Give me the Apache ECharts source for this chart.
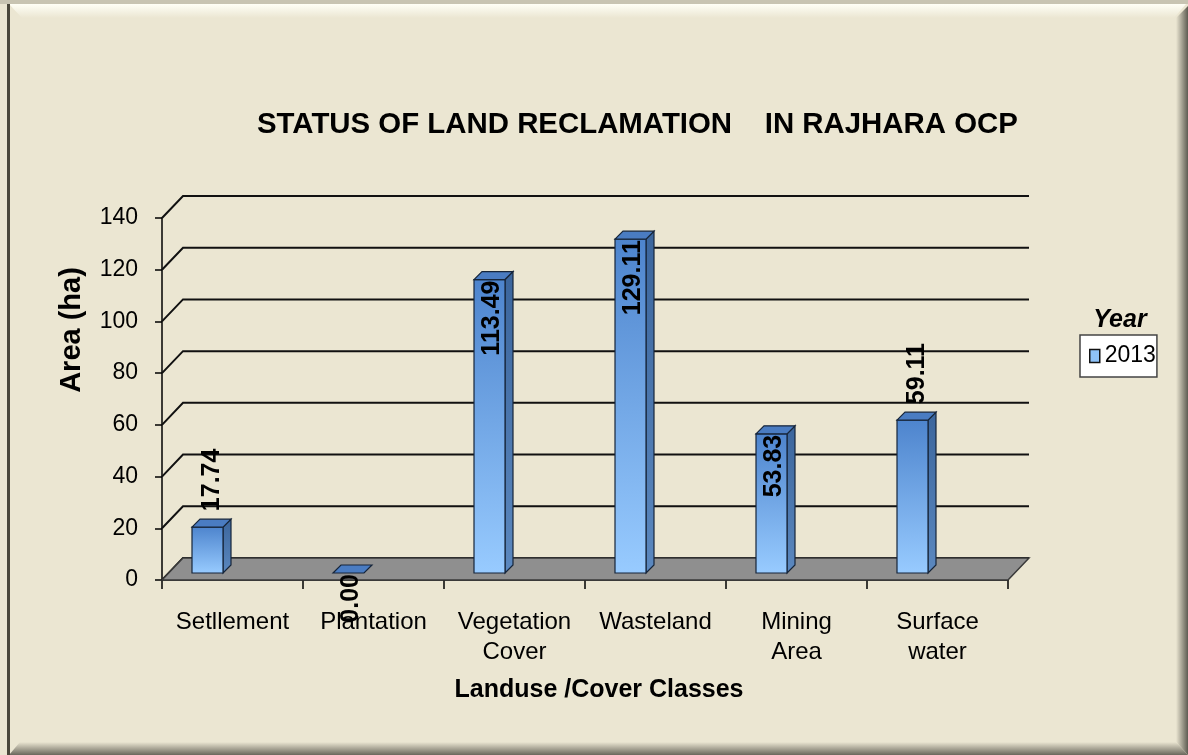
<!DOCTYPE html>
<html>
<head>
<meta charset="utf-8">
<script src="https://cdn.jsdelivr.net/npm/echarts@6/dist/echarts.min.js"></script>
<style>
  html, body { margin: 0; padding: 0; background: #ebe6d2; }
  #chart { width: 1188px; height: 755px; }
</style>
</head>
<body>
<div id="chart"></div>
<script>
// data
const categories = ['Setllement', 'Plantation', 'Vegetation\nCover', 'Wasteland', 'Mining\nArea', 'Surface\nwater']
const area2013 = [17.74, 0.00, 113.49, 129.11, 53.83, 59.11]
const yTicks = [0, 20, 40, 60, 80, 100, 120, 140]
// where Excel put each data label (inside the bar top or above it)
const labelInside = [false, true, true, true, true, false]

const SANS = "'Liberation Sans', Arial, sans-serif"
const DEPTH_X = 21, DEPTH_Y = -22   // back wall offset
const BAR_W = 31, BAR_D = 8

const chart = echarts.init(document.getElementById('chart'))

// back wall gridlines, drawn in fake 3D
function renderGrid(params, api) {
  const cs = params.coordSys
  const y = api.coord([0, api.value(1)])[1]
  const x0 = cs.x, x1 = cs.x + cs.width
  return {
    type: 'polyline',
    shape: { points: [[x0, y], [x0 + DEPTH_X, y + DEPTH_Y], [x1 + DEPTH_X, y + DEPTH_Y]] },
    style: { stroke: '#111', lineWidth: 2, fill: null },
  }
}

// grey floor
function renderFloor(params, api) {
  const cs = params.coordSys
  const y = api.coord([0, 0])[1]
  const x0 = cs.x, x1 = cs.x + cs.width
  return {
    type: 'polygon',
    shape: { points: [[x0, y], [x1, y], [x1 + DEPTH_X, y + DEPTH_Y], [x0 + DEPTH_X, y + DEPTH_Y]] },
    style: { fill: '#8f8f8f', stroke: '#3a3a3a', lineWidth: 1.5 },
  }
}

function renderBar(params, api) {
  const i = api.value(0)
  const v = api.value(1)
  const base = api.coord([i, 0])
  const top = api.coord([i, v])
  const cx = base[0]
  const L = cx - 40.5, R = L + BAR_W
  const B = base[1] - 7, T = top[1] - 7
  const d = BAR_D
  const edge = { stroke: '#16253a', lineWidth: 1.2 }
  const children = []
  if (B - T > 0.5) {
    children.push({
      type: 'polygon',
      shape: { points: [[R, T], [R + d, T - d], [R + d, B - d], [R, B]] },
      style: Object.assign({
        fill: new echarts.graphic.LinearGradient(0, 0, 0, 1, [
          { offset: 0, color: '#3b659c' },
          { offset: 1, color: '#5b88bf' },
        ]),
      }, edge),
    })
    children.push({
      type: 'rect',
      shape: { x: L, y: T, width: BAR_W, height: B - T },
      style: Object.assign({
        fill: new echarts.graphic.LinearGradient(0, 0, 0, 1, [
          { offset: 0, color: '#4d84cd' },
          { offset: 1, color: '#98cbff' },
        ]),
      }, edge),
    })
  }
  children.push({
    type: 'polygon',
    shape: { points: [[L, T], [R, T], [R + d, T - d], [L + d, T - d]] },
    style: Object.assign({ fill: '#4a7cc2' }, edge),
  })
  const inside = labelInside[i]
  children.push({
    type: 'text',
    x: inside ? cx - 22 : cx - 20,
    y: inside ? T + 1 : T - 16,
    rotation: Math.PI / 2,
    style: {
      text: v.toFixed(2),
      fill: '#000',
      fontFamily: SANS,
      fontSize: 25,
      fontWeight: 'bold',
      align: inside ? 'right' : 'left',
      verticalAlign: 'middle',
    },
    z2: 10,
  })
  return { type: 'group', children }
}

chart.setOption({
  backgroundColor: '#ebe6d2',
  animation: false,
  title: {
    text: 'STATUS OF LAND RECLAMATION    IN RAJHARA OCP',
    left: 257,
    top: 110,
    padding: 0,
    textStyle: { fontFamily: SANS, fontSize: 29.4, fontWeight: 'bold', color: '#000' },
  },
  legend: {
    data: ['2013'],
    left: 1080,
    top: 335,
    backgroundColor: '#fff',
    borderColor: '#444',
    borderWidth: 1.5,
    borderRadius: 0,
    padding: [8, 1, 8, 9],
    itemWidth: 10,
    itemHeight: 13,
    icon: 'rect',
    itemStyle: { borderColor: '#111', borderWidth: 1.5 },
    textStyle: { fontFamily: SANS, fontSize: 23, color: '#000', lineHeight: 26 },
  },
  grid: { left: 162, right: 180, top: 218, bottom: 175 },
  xAxis: {
    type: 'category',
    data: categories,
    boundaryGap: true,
    axisLine: { lineStyle: { color: '#000', width: 1.5 } },
    axisTick: { show: true, length: 9, interval: 0, lineStyle: { color: '#000', width: 1.5 } },
    axisLabel: {
      interval: 0,
      margin: 27,
      color: '#000',
      fontFamily: SANS,
      fontSize: 24,
      lineHeight: 30,
    },
  },
  yAxis: {
    type: 'value',
    min: 0,
    max: 140,
    interval: 20,
    axisLine: { show: true, lineStyle: { color: '#000', width: 1.5 } },
    axisTick: { show: true, length: 7, lineStyle: { color: '#000', width: 1.5 } },
    axisLabel: { margin: 24, color: '#000', fontFamily: SANS, fontSize: 23 },
    splitLine: { show: false },
  },
  graphic: [
    // frame bevel
    { type: 'rect', z: -10, silent: true, shape: { x: 0, y: 0, width: 1188, height: 4 }, style: { fill: '#c8c4b2' } },
    {
      type: 'polygon', z: -9, silent: true,
      shape: { points: [[9, 4], [1186, 4], [1174, 18], [22, 18]] },
      style: {
        fill: new echarts.graphic.LinearGradient(0, 0, 0, 1, [
          { offset: 0, color: '#fffff6' },
          { offset: 1, color: '#ebe6d2' },
        ]),
      },
    },
    {
      type: 'polygon', z: -9, silent: true,
      shape: { points: [[1176, 18], [1188, 6], [1188, 755], [1176, 742]] },
      style: {
        fill: new echarts.graphic.LinearGradient(0, 0, 1, 0, [
          { offset: 0, color: '#ebe6d2' },
          { offset: 1, color: '#5e5c52' },
        ]),
      },
    },
    {
      type: 'polygon', z: -9, silent: true,
      shape: { points: [[20, 742], [1176, 742], [1188, 755], [9, 755]] },
      style: {
        fill: new echarts.graphic.LinearGradient(0, 0, 0, 1, [
          { offset: 0, color: '#ebe6d2' },
          { offset: 1, color: '#6a675c' },
        ]),
      },
    },
    { type: 'rect', z: -8, silent: true, shape: { x: 7, y: 4, width: 3, height: 751 }, style: { fill: '#4a473b' } },
    // axis titles and legend heading
    {
      type: 'text', x: 72, y: 330, rotation: Math.PI / 2, silent: true,
      style: { text: 'Area (ha)', fill: '#000', fontFamily: SANS, fontSize: 29, fontWeight: 'bold', align: 'center', verticalAlign: 'middle' },
    },
    {
      type: 'text', x: 599, y: 690, silent: true,
      style: { text: 'Landuse /Cover Classes', fill: '#000', fontFamily: SANS, fontSize: 25, fontWeight: 'bold', align: 'center', verticalAlign: 'middle' },
    },
    {
      type: 'text', x: 1120, y: 320, silent: true,
      style: { text: 'Year', fill: '#000', fontFamily: SANS, fontSize: 25, fontWeight: 'bold', fontStyle: 'italic', align: 'center', verticalAlign: 'middle' },
    },
  ],
  series: [
    {
      name: 'gridlines',
      type: 'custom',
      renderItem: renderGrid,
      data: yTicks.map(v => [0, v]),
      silent: true,
      z: 1,
    },
    {
      name: 'floor',
      type: 'custom',
      renderItem: renderFloor,
      data: [[0, 0]],
      silent: true,
      z: 2,
    },
    {
      name: '2013',
      type: 'custom',
      renderItem: renderBar,
      data: area2013.map((v, i) => [i, v]),
      itemStyle: { color: '#8ec2f8' },
      z: 3,
    },
  ],
})
</script>
</body>
</html>
